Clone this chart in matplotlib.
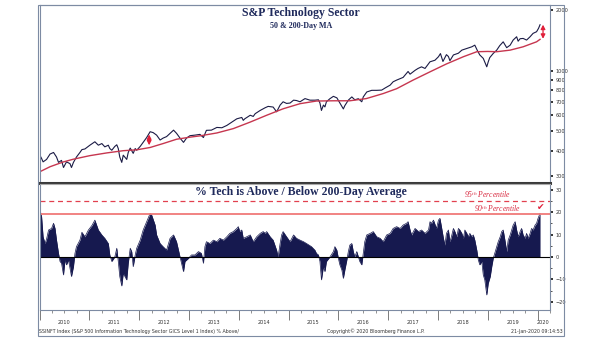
import numpy as np
import matplotlib.pyplot as plt
from matplotlib.patches import Rectangle
from matplotlib.ticker import FixedLocator, NullLocator, NullFormatter

plt.rcParams['mathtext.fontset'] = 'custom'
plt.rcParams['mathtext.rm'] = 'Liberation Serif:italic'
plt.rcParams['mathtext.it'] = 'Liberation Serif:italic'

# S&P 500 IT index (log scale, top panel)
price_years = [2010.00, 2010.04, 2010.07, 2010.14, 2010.21, 2010.28, 2010.34, 2010.38, 2010.44, 2010.48,
               2010.54, 2010.61, 2010.64, 2010.68, 2010.74, 2010.81, 2010.85, 2010.91, 2011.01, 2011.11,
               2011.18, 2011.25, 2011.31, 2011.38, 2011.41, 2011.45, 2011.51, 2011.55, 2011.58, 2011.61,
               2011.65, 2011.68, 2011.75, 2011.78, 2011.82, 2011.88, 2011.92, 2011.95, 2012.02, 2012.08,
               2012.15, 2012.22, 2012.28, 2012.35, 2012.42, 2012.48, 2012.55, 2012.62, 2012.69, 2012.75,
               2012.82, 2012.89, 2012.95, 2013.02, 2013.12, 2013.22, 2013.29, 2013.35, 2013.45, 2013.56,
               2013.66, 2013.76, 2013.86, 2013.96, 2014.06, 2014.09, 2014.12, 2014.23, 2014.29, 2014.33,
               2014.43, 2014.53, 2014.59, 2014.69, 2014.76, 2014.83, 2014.89, 2014.96, 2015.03, 2015.10,
               2015.16, 2015.23, 2015.33, 2015.43, 2015.53, 2015.60, 2015.63, 2015.66, 2015.70, 2015.73,
               2015.76, 2015.83, 2015.90, 2015.97, 2016.03, 2016.10, 2016.13, 2016.20, 2016.27, 2016.33,
               2016.40, 2016.47, 2016.50, 2016.57, 2016.67, 2016.77, 2016.87, 2016.94, 2017.04, 2017.10,
               2017.17, 2017.30, 2017.40, 2017.44, 2017.54, 2017.60, 2017.67, 2017.74, 2017.84, 2017.94,
               2018.01, 2018.05, 2018.10, 2018.17, 2018.21, 2018.24, 2018.31, 2018.41, 2018.48, 2018.58,
               2018.68, 2018.74, 2018.79, 2018.84, 2018.91, 2018.98, 2019.01, 2019.04, 2019.11, 2019.18,
               2019.24, 2019.31, 2019.38, 2019.45, 2019.51, 2019.58, 2019.61, 2019.65, 2019.71, 2019.78,
               2019.85, 2019.91, 2019.98, 2020.02, 2020.05]
price_vals = [382, 366, 352, 362, 385, 392, 372, 350, 358, 330,
              352, 345, 330, 350, 372, 392, 405, 408, 426, 443,
              426, 434, 418, 426, 410, 402, 420, 428, 410, 372,
              350, 380, 362, 392, 412, 388, 410, 402, 420, 440,
              465, 497, 492, 478, 452, 462, 470, 488, 506, 488,
              462, 440, 462, 475, 478, 482, 465, 505, 506, 522,
              520, 534, 555, 576, 585, 566, 576, 600, 592, 611,
              634, 654, 664, 659, 624, 674, 700, 687, 690, 713,
              710, 700, 726, 713, 713, 716, 690, 634, 674, 660,
              700, 725, 745, 732, 690, 645, 670, 713, 740, 716,
              725, 700, 740, 783, 798, 798, 800, 820, 847, 880,
              897, 925, 990, 960, 1003, 1025, 1044, 1025, 1106, 1126,
              1172, 1215, 1110, 1200, 1175, 1120, 1196, 1220, 1264, 1288,
              1313, 1338, 1260, 1196, 1150, 1044, 1106, 1160, 1217, 1264,
              1330, 1390, 1300, 1338, 1418, 1473, 1400, 1440, 1445, 1418,
              1473, 1531, 1560, 1622, 1690]

# 200-day moving average
ma_years = [2010.00, 2010.21, 2010.48, 2010.68, 2011.01, 2011.35, 2011.68, 2011.95, 2012.22, 2012.48,
            2012.75, 2013.02, 2013.22, 2013.56, 2013.89, 2014.23, 2014.56, 2014.89, 2015.23, 2015.56,
            2015.90, 2016.23, 2016.56, 2016.90, 2017.17, 2017.50, 2017.84, 2018.17, 2018.51, 2018.78,
            2019.00, 2019.18, 2019.45, 2019.71, 2019.98, 2020.05]
ma_vals = [314, 333, 352, 363, 378, 390, 400, 404, 415, 434,
           456, 467, 474, 490, 515, 555, 600, 646, 685, 706,
           708, 708, 726, 769, 813, 897, 986, 1079, 1172, 1241,
           1245, 1241, 1264, 1313, 1390, 1430]

# % above / below 200-day average (bottom panel)
pct_years = [2010.00, 2010.04, 2010.07, 2010.11, 2010.14, 2010.18, 2010.24, 2010.28, 2010.31, 2010.34,
             2010.38, 2010.41, 2010.44, 2010.48, 2010.51, 2010.54, 2010.58, 2010.61, 2010.64, 2010.68,
             2010.71, 2010.74, 2010.81, 2010.85, 2010.91, 2010.98, 2011.05, 2011.11, 2011.18, 2011.25,
             2011.31, 2011.38, 2011.41, 2011.45, 2011.51, 2011.55, 2011.58, 2011.61, 2011.65, 2011.68,
             2011.75, 2011.78, 2011.82, 2011.85, 2011.88, 2011.92, 2011.95, 2012.02, 2012.08, 2012.15,
             2012.22, 2012.25, 2012.32, 2012.35, 2012.42, 2012.48, 2012.55, 2012.59, 2012.62, 2012.69,
             2012.75, 2012.82, 2012.85, 2012.89, 2012.92, 2012.99, 2013.05, 2013.12, 2013.19, 2013.25,
             2013.29, 2013.32, 2013.35, 2013.42, 2013.49, 2013.56, 2013.62, 2013.69, 2013.76, 2013.82,
             2013.89, 2013.96, 2013.99, 2014.02, 2014.06, 2014.09, 2014.16, 2014.23, 2014.29, 2014.36,
             2014.43, 2014.49, 2014.53, 2014.56, 2014.63, 2014.69, 2014.76, 2014.79, 2014.83, 2014.86,
             2014.89, 2014.96, 2015.03, 2015.10, 2015.16, 2015.23, 2015.30, 2015.36, 2015.46, 2015.53,
             2015.56, 2015.60, 2015.63, 2015.66, 2015.70, 2015.73, 2015.76, 2015.83, 2015.90, 2015.93,
             2015.97, 2016.00, 2016.03, 2016.07, 2016.10, 2016.13, 2016.17, 2016.20, 2016.23, 2016.27,
             2016.30, 2016.33, 2016.37, 2016.43, 2016.47, 2016.50, 2016.53, 2016.57, 2016.64, 2016.70,
             2016.77, 2016.84, 2016.90, 2016.97, 2017.04, 2017.10, 2017.17, 2017.24, 2017.30, 2017.37,
             2017.40, 2017.44, 2017.47, 2017.54, 2017.61, 2017.67, 2017.74, 2017.81, 2017.84, 2017.87,
             2017.91, 2017.97, 2018.01, 2018.04, 2018.07, 2018.11, 2018.14, 2018.17, 2018.21, 2018.24,
             2018.27, 2018.31, 2018.34, 2018.38, 2018.41, 2018.44, 2018.48, 2018.51, 2018.54, 2018.58,
             2018.61, 2018.64, 2018.68, 2018.71, 2018.74, 2018.78, 2018.81, 2018.84, 2018.88, 2018.91,
             2018.94, 2018.98, 2019.01, 2019.05, 2019.08, 2019.11, 2019.15, 2019.18, 2019.21, 2019.25,
             2019.28, 2019.31, 2019.35, 2019.38, 2019.41, 2019.45, 2019.48, 2019.51, 2019.55, 2019.58,
             2019.61, 2019.65, 2019.68, 2019.71, 2019.75, 2019.78, 2019.81, 2019.85, 2019.88, 2019.91,
             2019.95, 2019.98, 2020.01, 2020.05]
pct_vals = [21.6, 18.0, 9.0, 6.0, 8.0, 12.0, 12.7, 15.0, 12.7, 7.5,
            1.6, -2.0, -2.8, -8.0, -1.3, -3.5, -1.3, -5.0, -8.7, -4.3,
            1.6, 4.6, 7.5, 11.0, 9.0, 12.0, 14.0, 16.4, 12.0, 9.8,
            8.3, 6.0, 0.9, -2.0, 0.0, 3.9, -2.0, -8.7, -12.9, -7.3,
            -10.2, -2.8, 3.9, 2.4, -4.3, 0.9, 3.9, 7.5, 12.0, 15.7,
            19.4, 18.7, 14.2, 9.8, 6.0, 4.6, 3.1, 6.0, 8.3, 9.8,
            6.8, 0.0, -2.8, -6.5, -2.0, -0.6, 0.9, 0.9, 2.4, 1.6,
            -2.8, 4.6, 6.8, 6.0, 7.5, 6.8, 8.3, 7.5, 9.0, 10.5,
            11.3, 12.7, 13.5, 11.3, 12.0, 8.3, 9.0, 9.8, 6.8, 9.0,
            10.5, 11.3, 10.5, 11.3, 9.0, 7.5, 3.0, 0.0, 6.0, 9.8,
            11.3, 9.0, 6.8, 9.8, 8.3, 7.5, 6.8, 6.0, 4.6, 3.0,
            1.6, 0.9, -2.0, -10.2, -4.3, -6.5, -2.0, 0.0, 2.4, 4.6,
            3.0, -0.6, -3.5, -5.8, -9.5, -5.8, -1.3, 2.4, 5.3, 6.0,
            2.4, 0.0, 2.4, -2.0, -3.5, 1.6, 6.8, 9.8, 10.5, 11.3,
            9.0, 8.3, 6.8, 9.8, 10.5, 12.7, 13.5, 12.7, 14.2, 15.0,
            15.7, 12.0, 9.8, 12.7, 11.3, 12.0, 10.5, 12.0, 15.7, 15.0,
            16.4, 12.7, 16.4, 17.2, 13.5, 8.3, 5.3, 10.5, 12.0, 6.8,
            9.0, 12.7, 11.3, 9.0, 12.7, 12.0, 10.5, 8.3, 12.0, 10.5,
            9.0, 10.5, 9.0, 9.8, 7.5, 3.0, -1.3, -3.5, -2.0, -8.0,
            -10.2, -16.9, -11.7, -8.7, -4.3, -0.6, 2.4, 4.6, 6.8, 9.0,
            11.3, 12.0, 6.8, 2.4, 7.5, 9.8, 12.0, 14.2, 15.7, 12.0,
            9.0, 11.3, 12.7, 9.8, 8.3, 10.5, 8.3, 10.5, 12.7, 12.0,
            14.2, 15.0, 17.2, 19.4]

pct95 = 24.9
pct90 = 19.3
year_labels = ['2010', '2011', '2012', '2013', '2014', '2015', '2016', '2017', '2018', '2019', '2020']

navy = '#16194f'
red_ma = '#c6364f'
red_txt = '#d8293f'
grid_col = '#7d8ba3'

fig = plt.figure(figsize=(6.05, 3.41), dpi=100)
W, H = 605.0, 341.0
left, right = 39.6 / W, 550 / W
ax1 = fig.add_axes([left, 1 - 182.5 / H, right - left, (182.5 - 5) / H])
ax2 = fig.add_axes([left, 1 - 310 / H, right - left, (310 - 183.5) / H], sharex=ax1)

# outer frame
fig.patches.append(Rectangle((38 / W, 1 - 336 / H), (564 - 38) / W, (336 - 5) / H,
                             transform=fig.transFigure, fill=False, ec=grid_col, lw=0.8))

# top panel
ax1.plot(price_years, price_vals, color='#1b1b45', lw=0.8)
ax1.plot(ma_years, ma_vals, color=red_ma, lw=1.0)
ax1.set_yscale('log')
ax1.set_ylim(278, 2118)
ax1.set_xlim(2010.0, 2020.25)
ax1.yaxis.tick_right()
ax1.yaxis.set_major_locator(FixedLocator([300, 400, 500, 600, 700, 800, 900, 1000, 2000]))
ax1.yaxis.set_minor_locator(NullLocator())
ax1.yaxis.set_minor_formatter(NullFormatter())
ax1.set_yticklabels(['300', '400', '500', '600', '700', '800', '900', '1000', '2000'])
ax1.tick_params(axis='y', direction='out', length=2.5, width=1.4, labelsize=3.6,
                pad=1.5, colors='#333333')
ax1.tick_params(axis='x', which='both', bottom=False, labelbottom=False)

arrow = dict(arrowstyle='<|-|>,head_length=0.25,head_width=0.13', color='#e0203a',
             lw=0.9, shrinkA=0, shrinkB=0)
ax1.annotate('', xy=(2020.11, 1690), xytext=(2020.11, 1440), arrowprops=arrow)
ax1.annotate('', xy=(2012.2, 481), xytext=(2012.2, 426), arrowprops=arrow)

for s in ['left', 'right', 'top']:
    ax1.spines[s].set_color(grid_col)
    ax1.spines[s].set_linewidth(0.8)
ax1.spines['bottom'].set_color('#3a3a3a')
ax1.spines['bottom'].set_linewidth(2.2)

fig.text(301 / W, 1 - 13 / H, 'S&P Technology Sector', ha='center', va='center',
         family='Liberation Serif', fontweight='bold', fontsize=8.5, color='#1f2a5c')
fig.text(301 / W, 1 - 26 / H, '50 & 200-Day MA', ha='center', va='center',
         family='Liberation Serif', fontweight='bold', fontsize=5.8, color='#1f2a5c')
fig.text(301 / W, 1 - 192 / H, '% Tech is Above / Below 200-Day Average', ha='center',
         va='center', family='Liberation Serif', fontweight='bold', fontsize=8.5,
         color='#1f2a5c')

# bottom panel
ax2.fill_between(pct_years, pct_vals, 0, color=navy, lw=0)
ax2.plot(pct_years, pct_vals, color=navy, lw=0.5)
ax2.axhline(0, color='black', lw=0.8)
ax2.axhline(pct95, color='#e2404f', lw=0.9, ls=(0, (4, 3)))
ax2.axhline(pct90, color='#f07a78', lw=1.3)
ax2.set_ylim(-23.6, 32.7)
ax2.yaxis.tick_right()
ax2.set_yticks([-20, -10, 0, 10, 20, 30])
ax2.set_yticks([-15, -5, 5, 15, 25], minor=True)
ax2.tick_params(axis='y', which='major', direction='out', length=2.5, width=1.4,
                labelsize=3.6, pad=1.5, colors='#333333')
ax2.tick_params(axis='y', which='minor', direction='out', length=1.2, width=0.6, colors='#333333')

ax2.text(2019.0, 27.6, r'95$^{\rm th}$ Percentile', ha='center', va='center',
         family='Liberation Serif', style='italic', fontsize=5.5, color=red_txt)
ax2.text(2019.19, 21.4, r'90$^{\rm th}$ Percentile', ha='center', va='center',
         family='Liberation Serif', style='italic', fontsize=5.5, color=red_txt)
ax2.text(2020.07, 22.2, '\u2714', ha='center', va='center', family='DejaVu Sans',
         fontsize=6.5, color='#e0203a')

# x axis: year boundaries + quarter ticks, labels centred in each year
ax2.set_xticks(list(range(2010, 2021)))
ax2.set_xticks([y + q / 4 for y in range(2010, 2021) for q in (1, 2, 3)], minor=True)
ax2.tick_params(axis='x', which='major', direction='out', length=7, width=0.6,
                colors='#666666', labelbottom=False)
ax2.tick_params(axis='x', which='minor', direction='out', length=2, width=0.5, colors='#666666')
ax2.set_xlim(2010.0, 2020.25)
xt = ax2.get_xaxis_transform()
for i, lab in enumerate(year_labels):
    xpos = 2010.5 + i if lab != '2020' else 2020.12
    ax2.text(xpos, -0.095, lab, transform=xt, ha='center', va='center',
             fontsize=3.6, color='#333333')

for s in ['left', 'right', 'bottom']:
    ax2.spines[s].set_color(grid_col)
    ax2.spines[s].set_linewidth(0.8)
ax2.spines['top'].set_color('#aaaaaa')
ax2.spines['top'].set_linewidth(0.8)

# footer
fig.text(39 / W, 1 - 331 / H,
         'SSINFT Index (S&P 500 Information Technology Sector GICS Level 1 Index) % Above/',
         ha='left', va='center', fontsize=3.4, color='#333333')
fig.text(376 / W, 1 - 331 / H, 'Copyright\u00a9 2020 Bloomberg Finance L.P.',
         ha='center', va='center', fontsize=3.4, color='#333333')
fig.text(563 / W, 1 - 331 / H, '21-Jan-2020 09:14:53',
         ha='right', va='center', fontsize=3.4, color='#333333')

fig.savefig('out.png', dpi=100)
